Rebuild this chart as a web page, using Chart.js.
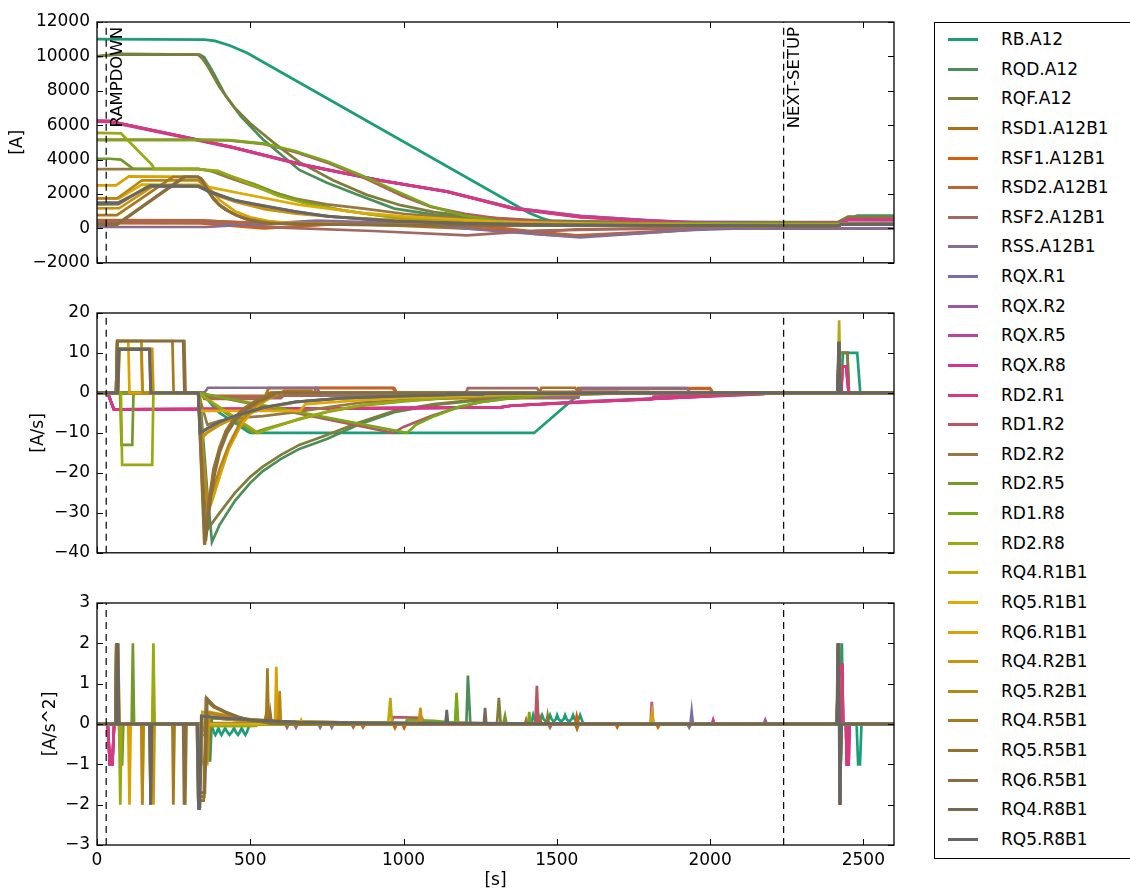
<!DOCTYPE html>
<html>
<head>
<meta charset="utf-8">
<script src="https://cdn.jsdelivr.net/npm/chart.js@4.4.0/dist/chart.umd.min.js"></script>
<style>
  body { margin: 0; background: #fff; width: 1130px; height: 891px; overflow: hidden; position: relative; font-family: "DejaVu Sans", sans-serif; }
  canvas { position: absolute; left: 0; }
  #legend { position: absolute; left: 934px; top: 22px; width: 220px; height: 837px; border: 1px solid #000; box-sizing: border-box; }
  .item { position: absolute; left: 0; height: 20px; width: 200px; }
  .swatch { position: absolute; left: 13px; top: 9px; width: 30px; height: 0; border-top: 3px solid; }
  .label { position: absolute; left: 66px; top: 0; font-size: 17px; line-height: 20px; white-space: nowrap; color: #000; }
</style>
</head>
<body>
<canvas id="pI" width="910" height="280" style="top:0px"></canvas>
<canvas id="pdI" width="910" height="280" style="top:290px"></canvas>
<canvas id="pddI" width="910" height="311" style="top:580px"></canvas>
<div id="legend"></div>
<script>
// circuit names, in plotting order
const names = ['RB.A12', 'RQD.A12', 'RQF.A12', 'RSD1.A12B1', 'RSF1.A12B1', 'RSD2.A12B1', 'RSF2.A12B1', 'RSS.A12B1',
  'RQX.R1', 'RQX.R2', 'RQX.R5', 'RQX.R8', 'RD2.R1', 'RD1.R2', 'RD2.R2', 'RD2.R5', 'RD1.R8', 'RD2.R8',
  'RQ4.R1B1', 'RQ5.R1B1', 'RQ6.R1B1', 'RQ4.R2B1', 'RQ5.R2B1', 'RQ4.R5B1', 'RQ5.R5B1', 'RQ6.R5B1', 'RQ4.R8B1', 'RQ5.R8B1'];

// event markers [s]
const markerX = [30, 2240];
const markerText = ['RAMPDOWN', 'NEXT-SETUP'];

const xTicks = [0, 500, 1000, 1500, 2000, 2500];
const iTicks = [-2000, 0, 2000, 4000, 6000, 8000, 10000, 12000];
const dITicks = [-40, -30, -20, -10, 0, 10, 20];
const ddITicks = [-3, -2, -1, 0, 1, 2, 3];

// current [A], flat pairs t,I
const current = [
  [0,11000, 350,10980, 385,10900, 435,10620, 490,10200, 1410,900, 1450,600, 1490,380, 1580,320, 2240,320, 2428,330, 2480,740, 2600,740],
  [0,10000, 70,10120, 335,10100, 350,9950, 375,9200, 420,7700, 470,6500, 540,5200, 600,4300, 660,3400, 750,2650, 850,1950, 970,1150, 1100,800, 1250,580, 1400,450, 1600,380, 1750,360, 2240,350, 2418,360, 2450,650, 2600,650],
  [0,10000, 70,10150, 330,10100, 345,9850, 362,9400, 400,8200, 450,7000, 500,6100, 575,5000, 660,3850, 770,2800, 880,1950, 990,1350, 1100,950, 1250,650, 1450,450, 1700,380, 2240,360, 2418,370, 2450,680, 2600,680],
  [0,480, 345,470, 560,250, 710,330, 1000,150, 1250,-50, 1445,-200, 1566,-50, 1800,0, 2600,0],
  [0,300, 340,290, 545,0, 970,450, 1200,100, 1445,-350, 1566,-480, 1800,-250, 2010,0, 2600,0],
  [0,450, 350,440, 711,200, 972,500, 1200,250, 1435,-200, 1566,-400, 1800,-200, 2010,0, 2600,0],
  [0,380, 350,370, 600,50, 900,-150, 1207,-400, 1435,-130, 1700,-40, 2000,0, 2600,0],
  [0,80, 358,80, 717,450, 1000,300, 1300,-150, 1576,-520, 1925,-100, 2100,0, 2600,0],
  [0,6250, 40,6240, 271,5380, 444,4720, 662,3760, 923,2800, 1142,2150, 1357,1200, 1576,720, 1794,480, 1958,340, 2240,300, 2600,320],
  [0,6200, 40,6190, 271,5330, 444,4680, 662,3720, 923,2780, 1142,2130, 1357,1200, 1576,730, 1794,470, 1958,340, 2240,300, 2600,320],
  [0,6250, 40,6240, 271,5370, 444,4710, 662,3740, 923,2790, 1142,2140, 1357,1180, 1576,690, 1794,450, 1958,330, 2240,300, 2428,310, 2452,500, 2600,500],
  [0,6250, 40,6240, 271,5375, 444,4720, 662,3740, 923,2800, 1142,2140, 1357,1150, 1576,650, 1794,420, 1958,300, 2240,300, 2428,320, 2452,530, 2600,530],
  [0,6230, 40,6220, 271,5360, 444,4700, 662,3730, 923,2790, 1142,2130, 1357,1160, 1576,660, 1794,430, 1958,310, 2240,300, 2428,320, 2452,520, 2600,520],
  [0,5150, 330,5150, 430,5120, 546,4900, 646,4450, 754,3800, 864,3000, 966,2150, 1000,1850, 1090,1250, 1200,850, 1300,600, 1420,420, 1550,320, 2240,280, 2600,280],
  [0,3450, 330,3450, 370,3350, 430,2950, 538,2300, 646,1740, 750,1400, 864,1160, 1000,850, 1200,550, 1400,330, 2240,250, 2600,250],
  [0,4050, 40,4050, 78,4000, 117,3480, 330,3460, 400,3250, 510,2600, 600,1950, 700,1450, 800,1050, 900,800, 1000,620, 1150,450, 1350,320, 2240,260, 2600,260],
  [0,5150, 330,5150, 430,5130, 546,4930, 646,4500, 754,3880, 864,3080, 972,2200, 1086,1300, 1195,760, 1305,450, 1413,290, 1550,250, 2240,250, 2600,250],
  [0,5550, 78,5530, 82,5460, 180,3690, 186,3460, 330,3450, 395,3350, 483,2700, 590,1900, 700,1350, 864,880, 972,620, 1100,450, 1300,320, 2240,240, 2600,240],
  [0,1450, 70,1460, 173,2520, 330,2480, 345,2350, 400,1900, 450,1600, 550,1150, 650,900, 800,650, 960,480, 1100,380, 1400,260, 1800,180, 2240,150, 2418,150, 2428,230, 2600,230],
  [0,1740, 72,1750, 146,2550, 330,2530, 336,2500, 662,1360, 864,900, 1000,700, 1300,400, 1700,220, 2240,150, 2418,150, 2428,230, 2600,230],
  [0,2500, 62,2500, 104,3020, 330,3000, 345,2800, 362,2450, 400,1650, 450,1000, 500,650, 560,420, 620,330, 800,250, 1200,180, 2240,150, 2418,150, 2428,230, 2600,230],
  [0,1160, 72,1170, 182,2450, 330,2430, 340,2350, 400,1850, 450,1550, 550,1100, 650,850, 800,620, 1057,420, 1300,290, 1700,190, 2240,150, 2418,150, 2428,230, 2600,230],
  [0,1740, 65,1740, 147,2800, 330,2790, 350,2500, 362,2150, 400,1350, 450,800, 500,520, 560,340, 600,290, 800,230, 1200,180, 2240,150, 2418,150, 2428,230, 2600,230],
  [0,770, 65,770, 248,3000, 330,2990, 340,2900, 352,2500, 365,2100, 380,1700, 400,1330, 420,1080, 450,800, 480,580, 520,380, 560,300, 800,220, 1200,170, 2240,140, 2418,140, 2428,220, 2600,220],
  [0,200, 65,200, 287,3000, 330,2990, 340,2900, 352,2500, 365,2100, 380,1700, 400,1330, 420,1080, 450,800, 480,580, 520,380, 560,300, 800,220, 1200,170, 2240,140, 2418,140, 2428,220, 2600,220],
  [0,250, 65,250, 283,3000, 330,2990, 345,2750, 360,2300, 380,1750, 400,1380, 430,1000, 460,720, 500,480, 540,340, 580,280, 800,220, 1200,170, 2240,140, 2418,140, 2428,220, 2600,220],
  [0,1400, 70,1410, 173,2500, 330,2480, 338,2420, 360,2220, 400,1950, 450,1650, 538,1340, 646,990, 754,700, 972,420, 1200,290, 1500,200, 2240,150, 2418,150, 2428,230, 2600,230],
  [0,1500, 70,1510, 173,2450, 330,2440, 338,2380, 360,2180, 400,1900, 450,1620, 538,1320, 646,980, 754,700, 972,420, 1200,290, 1500,200, 2240,150, 2418,150, 2428,230, 2600,230]
];

// ramp rate [A/s]
const rate = [
  [0,0, 340,0, 360,-1.5, 380,-3.5, 400,-5, 430,-6.5, 460,-8, 490,-9.6, 500,-10, 1426,-10, 1577,0, 2428,0, 2433,10, 2480,10, 2490,0, 2600,0],
  [0,0, 335,0, 345,-10, 360,-25, 375,-37.3, 400,-33, 450,-27, 500,-22.5, 540,-19.6, 600,-16.5, 660,-14, 750,-11.5, 850,-8, 970,-4.8, 1100,-3, 1250,-1.8, 1400,-1, 1600,-0.3, 1750,0, 2418,0, 2421,10, 2448,10, 2453,0, 2600,0],
  [0,0, 330,0, 362,-34, 400,-30, 450,-25, 500,-21, 540,-18.5, 600,-15.5, 660,-13, 750,-10.5, 850,-7.5, 970,-4.5, 1100,-2.8, 1250,-1.6, 1400,-0.9, 1600,-0.3, 1750,0, 2418,0, 2421,10, 2448,10, 2453,0, 2600,0],
  [0,0, 345,0, 352,-1.0, 560,-1.0, 570,0, 600,0, 610,0.5, 700,0.5, 710,-0.6, 1440,-0.6, 1450,1.3, 1560,1.3, 1570,0.2, 1800,0.2, 1810,0, 2600,0],
  [0,0, 340,0, 350,-1.5, 545,-1.5, 560,1.2, 970,1.2, 985,-1.3, 1560,-1.3, 1570,1.2, 2000,1.2, 2010,0, 2600,0],
  [0,0, 350,0, 360,-0.7, 705,-0.7, 715,1.3, 965,1.3, 980,-0.8, 1560,-0.8, 1570,1.0, 2000,1.0, 2010,0, 2600,0],
  [0,0, 350,0, 360,-1.3, 600,-1.3, 610,-0.6, 1200,-0.6, 1210,1.2, 1435,1.2, 1445,0.3, 1700,0.3, 1710,0, 2600,0],
  [0,0, 350,0, 362,1.3, 717,1.3, 730,-0.5, 1000,-0.5, 1010,-1.2, 1570,-1.2, 1580,1.2, 1925,1.2, 1935,0, 2600,0],
  [0,0, 35,0, 55,-4.1, 600,-4.0, 1316,-3.6, 1350,-3.2, 1590,-2.1, 1940,-1.0, 1945,-0.6, 2240,0, 2600,0],
  [0,0, 35,0, 55,-4.1, 600,-4.0, 1316,-3.6, 1350,-3.2, 1590,-2.2, 1900,-1.2, 2175,-0.3, 2180,-0.1, 2240,0, 2600,0],
  [0,0, 35,0, 55,-4.1, 600,-4.0, 1316,-3.6, 1350,-3.2, 1590,-2.2, 1810,-1.6, 1815,-0.9, 2240,0, 2428,0, 2432,6.6, 2444,6.6, 2452,0, 2600,0],
  [0,0, 35,0, 55,-4.1, 600,-4.0, 1316,-3.6, 1350,-3.2, 1590,-2.3, 2005,-0.8, 2010,-0.6, 2240,0, 2428,0, 2432,6.6, 2444,6.6, 2452,0, 2600,0],
  [0,0, 35,0, 55,-4.1, 600,-4.0, 1316,-3.6, 1350,-3.2, 1590,-2.3, 2000,-0.8, 2240,0, 2428,0, 2432,6.6, 2444,6.6, 2452,0, 2600,0],
  [0,0, 330,0, 966,-10, 1000,-8.5, 1090,-5.8, 1170,-3.8, 1250,-2.3, 1330,-1.5, 1420,-1, 1550,0, 2600,0],
  [0,0, 330,0, 360,-8, 400,-7, 440,-6.4, 540,-5.8, 646,-4.8, 750,-3.6, 864,-2.4, 1000,-1.8, 1200,-1.2, 1400,-0.6, 1600,0, 2600,0],
  [0,0, 75,0, 80,-13, 115,-13, 119,0, 330,0, 510,-10, 550,-9, 650,-6.8, 760,-4.6, 870,-3.1, 1000,-2.1, 1150,-1.2, 1350,-0.5, 1550,0, 2600,0],
  [0,0, 330,0, 1011,-10, 1040,-8, 1100,-5.8, 1180,-3.5, 1250,-2.3, 1330,-1.5, 1420,-0.9, 1550,0, 2600,0],
  [0,0, 78,0, 82,-18, 180,-18, 184,0, 330,0, 525,-10, 560,-9, 660,-6.5, 760,-4.5, 870,-3, 1000,-2, 1150,-1.2, 1350,-0.5, 1550,0, 2600,0],
  [0,0, 68,0, 72,11, 171,11, 175,0, 330,0, 340,-11.5, 360,-10, 400,-8, 450,-6.2, 550,-3.8, 650,-2.3, 800,-1.4, 955,-0.9, 960,-0.3, 1100,-0.5, 1400,-0.25, 1800,-0.1, 2000,0, 2416,0, 2421,18.2, 2426,0, 2600,0],
  [0,0, 69,0, 73,11, 144,11, 148,0, 330,0, 336,-4.5, 662,-4.5, 680,-2.8, 864,-1.8, 1000,-1.2, 1300,-0.5, 1700,-0.2, 2000,0, 2416,0, 2421,12.8, 2426,0, 2600,0],
  [0,0, 62,0, 66,13, 102,13, 106,0, 330,0, 362,-30, 380,-26, 400,-21, 430,-14, 470,-8, 520,-3.5, 560,-1.5, 585,-0.5, 590,0, 2416,0, 2421,12.8, 2426,0, 2600,0],
  [0,0, 69,0, 73,11, 180,11, 184,0, 330,0, 338,-11, 360,-9.8, 400,-8, 450,-6, 550,-3.6, 650,-2.2, 800,-1.3, 1050,-0.75, 1057,-0.35, 1300,-0.3, 1700,-0.1, 2000,0, 2416,0, 2421,12.8, 2426,0, 2600,0],
  [0,0, 62,0, 66,13, 145,13, 149,0, 330,0, 360,-28, 380,-24, 400,-19, 430,-13, 470,-7, 520,-3, 560,-1.2, 592,-0.4, 597,0, 2416,0, 2421,12.8, 2426,0, 2600,0],
  [0,0, 62,0, 66,13, 246,13, 250,0, 330,0, 352,-38, 365,-28, 380,-20, 400,-14, 420,-10, 450,-6.5, 480,-4, 520,-2, 552,-0.8, 556,0, 2416,0, 2421,12.8, 2426,0, 2600,0],
  [0,0, 62,0, 66,13, 285,13, 289,0, 330,0, 350,-38, 365,-27, 380,-19, 400,-13.5, 420,-9.5, 450,-6, 480,-3.8, 520,-1.8, 560,-0.5, 568,0, 2416,0, 2421,12.8, 2426,0, 2600,0],
  [0,0, 62,0, 66,13, 281,13, 285,0, 330,0, 355,-37, 370,-27, 385,-20, 400,-15, 425,-10, 455,-6.5, 490,-4, 530,-2, 575,-0.6, 580,0, 2416,0, 2421,12.8, 2426,0, 2600,0],
  [0,0, 67,0, 71,11, 171,11, 175,0, 330,0, 338,-10, 360,-9, 400,-7.3, 450,-5.8, 550,-3.6, 646,-2.3, 800,-1.3, 972,-0.8, 1200,-0.45, 1260,-0.4, 1266,-0.1, 1500,-0.1, 1700,0, 2416,0, 2419,12.5, 2424,0, 2600,0],
  [0,0, 68,0, 72,10.8, 172,10.8, 176,0, 330,0, 336,-10, 360,-8.8, 400,-7.2, 450,-5.7, 550,-3.5, 646,-2.2, 800,-1.3, 972,-0.8, 1135,-0.5, 1141,-0.15, 1500,-0.1, 1700,0, 2416,0, 2420,12.8, 2425,0, 2600,0]
];

// ramp acceleration [A/s^2]
const accel = [
  [0,0, 350,0, 376,-0.08, 381,-0.2, 386,-0.27, 391,-0.2, 396,-0.1, 401,-0.2, 406,-0.27, 411,-0.2, 418,-0.1, 425,-0.2, 432,-0.27, 440,-0.2, 447,-0.1, 453,-0.2, 460,-0.27, 466,-0.2, 472,-0.1, 478,-0.2, 484,-0.27, 489,-0.2, 496,-0.05, 500,0,
   1418,0, 1420,0.12, 1423,0.22, 1427,0.12, 1437,0.06, 1447,0.12, 1452,0.22, 1457,0.12, 1465,0.06, 1473,0.12, 1478,0.22, 1483,0.12, 1490,0.06, 1497,0.12, 1501,0.22, 1506,0.12, 1514,0.06, 1522,0.12, 1527,0.22, 1532,0.12, 1540,0.06, 1548,0.12, 1553,0.22, 1558,0.12, 1565,0.06, 1571,0.12, 1576,0.22, 1581,0.12, 1586,0,
   2426,0, 2430,2, 2434,0, 2478,0, 2483,-1, 2489,-1, 2494,0, 2600,0],
  [0,0, 335,0, 343,-0.9, 369,-0.9, 375,0.15, 450,0.1, 600,0.06, 800,0.04, 1000,0.02, 1205,0.01, 1210,1.2, 1218,0, 2416,0, 2421,2, 2426,0, 2446,0, 2450,-1, 2454,0, 2600,0],
  [0,0, 330,0, 340,-0.9, 362,-0.9, 368,0.15, 450,0.1, 600,0.06, 800,0.04, 1000,0.02, 1305,0.01, 1311,0.65, 1317,0, 2416,0, 2421,2, 2426,0, 2446,0, 2450,-1, 2454,0, 2600,0],
  [0,0, 342,0, 348,-0.12, 354,0, 558,0, 564,0.1, 570,0, 1440,0, 1445,0.15, 1450,0, 1560,0, 1566,-0.12, 1572,0, 2600,0],
  [0,0, 338,0, 345,-0.15, 352,0, 545,0, 552,0.25, 560,0, 966,0, 972,-0.1, 978,0, 996,0, 1002,-0.1, 1008,0, 1560,0, 1565,0.2, 1572,0, 1692,0, 1697,-0.08, 1703,0, 1825,0, 1830,-0.08, 1836,0, 2600,0],
  [0,0, 830,0, 836,-0.08, 842,0, 862,0, 868,-0.08, 874,0, 1396,0, 1400,0.1, 1404,0, 2600,0],
  [0,0, 614,0, 620,-0.09, 626,0, 643,0, 649,-0.09, 655,0, 1472,0, 1478,-0.09, 1484,0, 2600,0],
  [0,0, 356,0, 362,0.13, 368,0, 722,0, 728,-0.09, 734,0, 760,0, 766,-0.09, 772,0, 1926,0, 1932,-0.09, 1938,0, 2600,0],
  [0,0, 35,0, 42,-1, 50,-1, 56,0, 1936,0, 1940,0.3, 1944,0, 2600,0],
  [0,0, 35,0, 42,-1, 50,-1, 56,0, 2175,0, 2180,0.1, 2185,0, 2600,0],
  [0,0, 35,0, 42,-1, 50,-1, 56,0, 1806,0, 1810,0.55, 1814,0, 2428,0, 2431,1.5, 2434,0, 2443,0, 2446,-1, 2452,-1, 2455,0, 2600,0],
  [0,0, 35,0, 42,-1, 50,-1, 56,0, 2006,0, 2010,0.1, 2014,0, 2428,0, 2431,1.5, 2434,0, 2443,0, 2446,-1, 2452,-1, 2455,0, 2600,0],
  [0,0, 35,0, 42,-1, 50,-1, 56,0, 2428,0, 2431,1.5, 2434,0, 2443,0, 2446,-1, 2452,-1, 2455,0, 2600,0],
  [0,0, 330,0, 335,-0.015, 960,-0.015, 966,0.17, 1060,0.15, 1066,0.05, 1250,0.02, 1430,0.01, 1435,0.95, 1440,0.01, 1550,0, 2600,0],
  [0,0, 330,0, 335,-0.27, 358,-0.27, 364,0.02, 1600,0, 2600,0],
  [0,0, 72,0, 78,-1, 82,-1, 86,0, 113,0, 117,2, 121,0, 330,0, 335,-0.05, 505,-0.05, 512,0.06, 700,0.03, 1000,0.01, 1325,0, 1331,0.2, 1336,0, 2600,0],
  [0,0, 330,0, 335,-0.015, 1005,-0.015, 1011,0.1, 1100,0.08, 1168,0.03, 1173,0.77, 1178,0.03, 1300,0.01, 1407,0.01, 1410,0.3, 1414,0.01, 1550,0, 2600,0],
  [0,0, 72,0, 76,-2, 80,0, 180,0, 184,2, 188,0, 330,0, 335,-0.05, 520,-0.05, 527,0.06, 700,0.03, 1000,0.01, 1550,0, 2600,0],
  [0,0, 65,0, 68,2, 72,0, 171,0, 175,-2, 179,0, 328,0, 333,-1.5, 338,-1.5, 344,0.3, 400,0.2, 500,0.12, 600,0.07, 800,0.04, 950,0.02, 957,0.65, 962,0.02, 1300,0.01, 1800,0, 2414,0, 2418,2, 2422,0, 2424,-2, 2428,0, 2600,0],
  [0,0, 66,0, 69,2, 73,0, 144,0, 148,-2, 152,0, 330,0, 334,-0.5, 338,0, 660,0, 666,0.1, 672,0, 2414,0, 2418,2, 2422,0, 2424,-2, 2428,0, 2600,0],
  [0,0, 60,0, 63,2, 67,0, 102,0, 106,-2, 110,0, 328,0, 332,-1, 360,-1, 366,0.3, 420,0.22, 480,0.12, 560,0.06, 581,0.05, 585,1.42, 589,0.02, 700,0, 1806,0, 1811,0.3, 1816,0, 2414,0, 2418,2, 2422,0, 2424,-2, 2428,0, 2600,0],
  [0,0, 66,0, 69,2, 73,0, 180,0, 184,-2, 188,0, 330,0, 334,-1.4, 338,-1.4, 343,0.2, 450,0.1, 600,0.05, 1050,0.02, 1055,0.4, 1060,0.02, 1400,0, 2414,0, 2418,2, 2422,0, 2424,-2, 2428,0, 2600,0],
  [0,0, 60,0, 63,2, 67,0, 145,0, 148,-2, 152,0, 328,0, 332,-0.95, 358,-0.95, 364,0.28, 420,0.2, 480,0.11, 560,0.05, 592,0.05, 596,0.82, 600,0.02, 700,0, 2414,0, 2418,2, 2422,0, 2424,-2, 2428,0, 2600,0],
  [0,0, 60,0, 63,2, 67,0, 246,0, 249,-2, 253,0, 326,0, 330,-1.8, 350,-1.8, 357,0.65, 380,0.45, 420,0.3, 460,0.18, 500,0.1, 552,0.05, 556,1.38, 560,0.02, 620,0, 2414,0, 2418,2, 2422,0, 2424,-2, 2428,0, 2600,0],
  [0,0, 60,0, 63,2, 67,0, 285,0, 288,-2, 292,0, 326,0, 330,-1.9, 348,-1.9, 355,0.6, 380,0.42, 420,0.28, 460,0.16, 500,0.09, 560,0.03, 565,0.3, 570,0.02, 620,0, 1466,0, 1470,0.2, 1474,0, 2414,0, 2418,2, 2422,0, 2424,-2, 2428,0, 2600,0],
  [0,0, 60,0, 63,2, 67,0, 281,0, 284,-2, 288,0, 328,0, 332,-1.7, 352,-1.7, 360,0.62, 385,0.43, 420,0.3, 460,0.18, 500,0.1, 560,0.03, 620,0, 2414,0, 2418,2, 2422,0, 2424,-2, 2428,0, 2600,0],
  [0,0, 64,0, 67,2, 71,0, 171,0, 175,-2, 179,0, 328,0, 332,-2.05, 336,-2.05, 341,0.2, 400,0.15, 500,0.1, 650,0.05, 900,0.02, 1262,0.01, 1266,0.4, 1270,0, 1700,0, 2413,0, 2417,2, 2421,0, 2423,-2, 2427,0, 2600,0],
  [0,0, 65,0, 68,2, 72,0, 172,0, 175,-2, 179,0, 328,0, 331,-2.1, 335,-2.1, 340,0.2, 400,0.15, 500,0.1, 650,0.05, 900,0.02, 1137,0.02, 1141,0.35, 1145,0.02, 1700,0, 2414,0, 2418,2, 2422,0, 2424,-2, 2428,0, 2600,0]
];

// Dark2 stops, sampled evenly along a linear ramp
const dark2 = [[27,158,119],[217,95,2],[117,112,179],[231,41,138],[102,166,30],[230,171,2],[166,118,29],[102,102,102]];
function rampColor(t) {
  const s = t * (dark2.length - 1);
  const k = Math.min(dark2.length - 2, Math.floor(s));
  const f = s - k;
  const c = dark2[k].map((v, j) => Math.round(v + f * (dark2[k + 1][j] - v)));
  return `rgb(${c[0]},${c[1]},${c[2]})`;
}
const colors = names.map((_, i) => rampColor(i / (names.length - 1)));

const toPts = arr => {
  const out = [];
  for (let i = 0; i < arr.length; i += 2) out.push({ x: arr[i], y: arr[i + 1] });
  return out;
};
const fmt = v => String(v).replace('-', '\u2212');

Chart.defaults.font.family = '"DejaVu Sans", sans-serif';
Chart.defaults.font.size = 17;
Chart.defaults.color = '#000';

// box with inward ticks on all four sides
const framePlugin = {
  id: 'frame',
  afterDatasetsDraw(chart, args, opts) {
    const { ctx, chartArea: a, scales: { x, y } } = chart;
    ctx.save();
    ctx.strokeStyle = '#000';
    ctx.lineWidth = 1;
    ctx.beginPath();
    xTicks.forEach(v => {
      const px = Math.round(x.getPixelForValue(v)) + 0.5;
      ctx.moveTo(px, a.top); ctx.lineTo(px, a.top + 6);
      ctx.moveTo(px, a.bottom); ctx.lineTo(px, a.bottom - 6);
    });
    opts.yTicks.forEach(v => {
      const py = Math.round(y.getPixelForValue(v)) + 0.5;
      ctx.moveTo(a.left, py); ctx.lineTo(a.left + 6, py);
      ctx.moveTo(a.right, py); ctx.lineTo(a.right - 6, py);
    });
    ctx.stroke();
    ctx.lineWidth = 1.3;
    ctx.strokeRect(a.left, a.top, a.width, a.height);
    ctx.restore();
  }
};

// rotated event names next to the marker lines
const markerLabels = {
  id: 'markerLabels',
  afterDatasetsDraw(chart, args, opts) {
    if (!opts.show) return;
    const { ctx, chartArea: a, scales: { x } } = chart;
    ctx.save();
    ctx.fillStyle = '#000';
    ctx.font = '16.5px "DejaVu Sans", sans-serif';
    markerX.forEach((mx, k) => {
      ctx.save();
      ctx.translate(x.getPixelForValue(mx) + 3, a.top + 5);
      ctx.rotate(-Math.PI / 2);
      ctx.textAlign = 'right';
      ctx.textBaseline = 'top';
      ctx.fillText(markerText[k], 0, 0);
      ctx.restore();
    });
    ctx.restore();
  }
};

function makePanel(id, series, yMin, yMax, yTicks, yTitle, padLeft, padTop, padBottom, showX, labels) {
  const datasets = series.map((arr, i) => ({
    label: names[i],
    data: toPts(arr),
    borderColor: colors[i],
    borderWidth: 2.7,
    pointRadius: 0,
    tension: 0,
    fill: false,
    order: 100 - i
  }));
  markerX.forEach(mx => datasets.push({
    label: '',
    data: [{ x: mx, y: yMin }, { x: mx, y: yMax }],
    borderColor: '#000',
    borderWidth: 1.2,
    borderDash: [7, 5],
    pointRadius: 0,
    fill: false,
    order: 0
  }));

  const xScale = {
    type: 'linear', min: 0, max: 2600, display: showX,
    grid: { display: false, drawTicks: false },
    border: { display: false },
    ticks: { padding: 5, maxRotation: 0, autoSkip: false, callback: v => String(v) },
    title: { display: showX, text: '[s]', padding: { top: 0, bottom: 0 } },
    afterBuildTicks: s => { s.ticks = xTicks.map(value => ({ value })); }
  };
  if (showX) xScale.afterFit = s => { s.height = 46; };

  return new Chart(document.getElementById(id), {
    type: 'line',
    data: { datasets },
    plugins: [framePlugin, markerLabels],
    options: {
      responsive: false,
      animation: false,
      devicePixelRatio: 1,
      layout: { padding: { left: padLeft, right: 16, top: padTop, bottom: padBottom } },
      plugins: {
        legend: { display: false },
        tooltip: { enabled: false },
        frame: { yTicks },
        markerLabels: { show: labels }
      },
      scales: {
        x: xScale,
        y: {
          min: yMin, max: yMax,
          grid: { display: false, drawTicks: false },
          border: { display: false },
          ticks: { padding: 7, autoSkip: false, callback: v => fmt(v) },
          afterBuildTicks: s => { s.ticks = yTicks.map(value => ({ value })); },
          title: { display: true, text: yTitle, padding: { top: 0, bottom: 0 } },
          afterFit: s => { s.width = 97 - padLeft; }
        }
      }
    }
  });
}

makePanel('pI', current, -2000, 12000, iTicks, '[A]', 7, 22, 15, false, true);
makePanel('pdI', rate, -40, 20, dITicks, '[A/s]', 28, 23, 15, false, false);
makePanel('pddI', accel, -3, 3, ddITicks, '[A/s^2]', 40, 23, 0, true, false);

// legend on the right
const legend = document.getElementById('legend');
names.forEach((n, i) => {
  const item = document.createElement('div');
  item.className = 'item';
  item.style.top = (39 - 23 - 10 + i * 29.63) + 'px';
  item.innerHTML = `<div class="swatch" style="border-color:${colors[i]}"></div><div class="label">${n}</div>`;
  legend.appendChild(item);
});
</script>
</body>
</html>
